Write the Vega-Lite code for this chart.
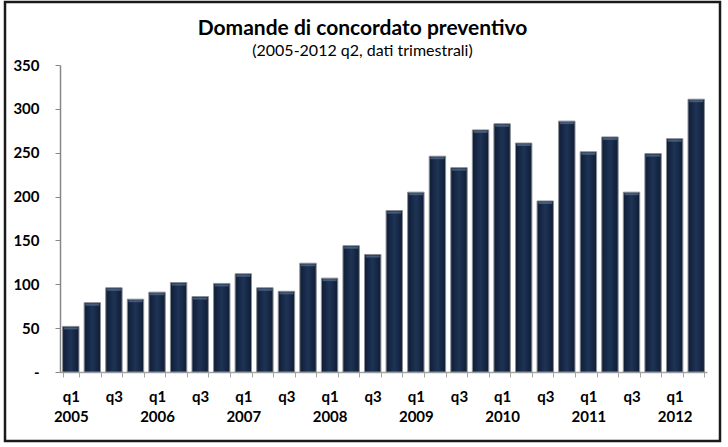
{
  "$schema": "https://vega.github.io/schema/vega-lite/v6.json",
  "autosize": "none",
  "width": 715,
  "height": 439,
  "padding": {"left": 5, "top": 2, "right": 8, "bottom": 6},
  "background": "white",
  "title": {
    "text": "Domande di concordato preventivo",
    "subtitle": "(2005-2012 q2, dati trimestrali)",
    "anchor": "middle",
    "frame": "group",
    "offset": -57,
    "font": "Lato",
    "fontSize": 21,
    "fontWeight": "bold",
    "color": "#000000",
    "subtitleFont": "Lato",
    "subtitleFontSize": 16,
    "subtitleColor": "#000000",
    "subtitlePadding": 4
  },
  "data": {
    "values": [
      {"period": "2005 q1", "value": 52},
      {"period": "2005 q2", "value": 79},
      {"period": "2005 q3", "value": 96},
      {"period": "2005 q4", "value": 83},
      {"period": "2006 q1", "value": 91},
      {"period": "2006 q2", "value": 102},
      {"period": "2006 q3", "value": 86},
      {"period": "2006 q4", "value": 101},
      {"period": "2007 q1", "value": 112},
      {"period": "2007 q2", "value": 96},
      {"period": "2007 q3", "value": 92},
      {"period": "2007 q4", "value": 124},
      {"period": "2008 q1", "value": 107},
      {"period": "2008 q2", "value": 144},
      {"period": "2008 q3", "value": 134},
      {"period": "2008 q4", "value": 184},
      {"period": "2009 q1", "value": 205},
      {"period": "2009 q2", "value": 246},
      {"period": "2009 q3", "value": 233},
      {"period": "2009 q4", "value": 276},
      {"period": "2010 q1", "value": 283},
      {"period": "2010 q2", "value": 261},
      {"period": "2010 q3", "value": 195},
      {"period": "2010 q4", "value": 286},
      {"period": "2011 q1", "value": 251},
      {"period": "2011 q2", "value": 268},
      {"period": "2011 q3", "value": 205},
      {"period": "2011 q4", "value": 249},
      {"period": "2012 q1", "value": 266},
      {"period": "2012 q2", "value": 311}
    ]
  },
  "encoding": {
    "x": {
      "field": "period",
      "type": "ordinal",
      "sort": null,
      "scale": {"range": [55, 702], "paddingInner": 0.24, "paddingOuter": 0.12},
      "axis": {
        "title": null,
        "orient": "bottom",
        "offset": -69,
        "labelAngle": 0,
        "tickBand": "extent",
        "tickSize": 5,
        "tickColor": "#a6a6a6",
        "domainColor": "#a6a6a6",
        "domainWidth": 1.5,
        "labelFont": "Lato",
        "labelFontSize": 15,
        "labelFontWeight": "bold",
        "labelColor": "#000000",
        "labelPadding": 12,
        "labelLineHeight": 20,
        "labelBaseline": "top",
        "labelOverlap": false,
        "labelExpr": "substring(datum.value, 5) == 'q1' ? ['q1', substring(datum.value, 0, 4)] : (substring(datum.value, 5) == 'q3' ? 'q3' : '')"
      }
    },
    "y": {
      "field": "value",
      "type": "quantitative",
      "scale": {"domain": [0, 350], "range": [370, 63], "nice": false, "zero": true},
      "axis": {
        "title": null,
        "orient": "left",
        "offset": -55,
        "values": [0, 50, 100, 150, 200, 250, 300, 350],
        "grid": false,
        "tickSize": 5,
        "tickColor": "#888888",
        "domainColor": "#888888",
        "domainWidth": 1.5,
        "labelFont": "Lato",
        "labelFontSize": 15,
        "labelFontWeight": "bold",
        "labelColor": "#000000",
        "labelPadding": 16,
        "labelExpr": "datum.value == 0 ? '-\u2003' : datum.label"
      }
    }
  },
  "layer": [
    {
      "mark": {
        "type": "bar",
        "fill": {
          "gradient": "linear",
          "x1": 0, "y1": 0, "x2": 1, "y2": 0,
          "stops": [
            {"offset": 0, "color": "#0f1d35"},
            {"offset": 0.5, "color": "#1e3355"},
            {"offset": 1, "color": "#0f1d35"}
          ]
        },
        "stroke": "#8a8f98",
        "strokeWidth": 1
      }
    },
    {
      "mark": {"type": "tick", "color": "#5a6f8f", "thickness": 2, "yOffset": 2, "size": 14}
    }
  ],
  "config": {
    "view": {"stroke": "#1a1a1a", "strokeWidth": 2.5}
  }
}
